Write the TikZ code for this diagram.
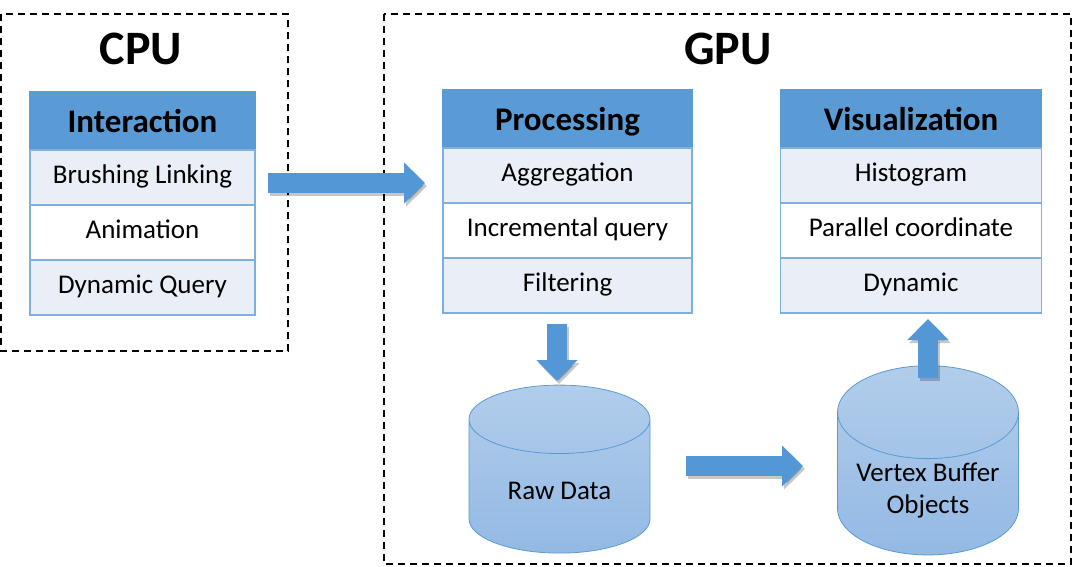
\documentclass[tikz,border=0pt]{standalone}
\usepackage{fontspec}
\setmainfont{Carlito}
\usepackage{tikz}
\usetikzlibrary{positioning}
\usetikzlibrary{shapes.geometric}
\usetikzlibrary{arrows.meta}

\definecolor{hdblue}{HTML}{5B9BD5}
\definecolor{rowblue}{HTML}{E9EEF7}
\definecolor{lineblue}{HTML}{7EB0DF}
\definecolor{arrowblue}{HTML}{5497D6}
\definecolor{cyltop}{HTML}{B2CDEB}
\definecolor{cylbot}{HTML}{93B9E4}

\tikzset{
	unitbox/.style={draw=black, line width=1.6pt, dash pattern=on 7pt off 5pt},
	title/.style={font=\fontsize{48}{56}\selectfont\bfseries, anchor=base},
	header/.style={rectangle, draw=hdblue, fill=hdblue, line width=1.5pt, outer sep=0pt, minimum height=58pt, text height=23pt, text depth=1pt, font=\fontsize{33}{40}\selectfont\bfseries},
	cell/.style={rectangle, draw=lineblue, line width=1.5pt, outer sep=0pt, minimum height=55pt, text height=18pt, text depth=6pt, font=\fontsize{27}{32}\selectfont},
	lightcell/.style={cell, fill=rowblue},
	whitecell/.style={cell, fill=white},
	store/.style={cylinder, shape border rotate=90, aspect=0.62, draw=hdblue, line width=0.8pt, top color=cyltop, bottom color=cylbot, minimum width=181pt, minimum height=168pt, align=center, font=\fontsize{27}{32}\selectfont},
	fat/.style={line width=20pt, arrowblue, -{Triangle[length=21pt, width=40pt]}},
	fatshadow/.style={line width=20pt, black, opacity=0.22, -{Triangle[length=21pt, width=40pt]}, transform canvas={shift={(2,3)}}}
}

\begin{document}
\begin{tikzpicture}[x=1pt, y=-1pt]
				\useasboundingbox (0,0) rectangle (1074,566);

				%Frames
				\draw[unitbox] (1,14) rectangle (288,351);
				\draw[unitbox] (384,14) rectangle (1071,564);
				\node[title] (cpu) at (141,64) {CPU};
				\node[title] (gpu) at (728,64) {GPU};

				%Interaction
				\node[header, minimum width=225pt] (inter) at (142.5,121) {Interaction};
				\node[lightcell, minimum width=225pt, below=0pt of inter] (brush) {Brushing Linking};
				\node[whitecell, minimum width=225pt, below=0pt of brush] (anim) {Animation};
				\node[lightcell, minimum width=225pt, below=0pt of anim] (dquery) {Dynamic Query};

				%Processing
				\node[header, minimum width=249pt] (proc) at (567.5,119) {Processing};
				\node[lightcell, minimum width=249pt, below=0pt of proc] (aggr) {Aggregation};
				\node[whitecell, minimum width=249pt, below=0pt of aggr] (incr) {Incremental query};
				\node[lightcell, minimum width=249pt, below=0pt of incr] (filt) {Filtering};

				%Visualization
				\node[header, minimum width=261pt] (vis) at (911,119) {Visualization};
				\node[lightcell, minimum width=261pt, below=0pt of vis] (hist) {Histogram};
				\node[whitecell, minimum width=261pt, below=0pt of hist] (pcoord) {Parallel coordinate};
				\node[lightcell, minimum width=261pt, below=0pt of pcoord] (dyn) {Dynamic};

				%Stores
				\node[store] (raw) at (559.5,491) {Raw Data};
				\node[store] (vbo) at (928,490) {Vertex Buffer\\Objects};

				%Arrow ends
				\coordinate      (cpuout) 	at 	(268,183);
				\coordinate      (gpuin) 	at 	(425,183);
				\coordinate      (procout) 	at 	(557,324);
				\coordinate      (rawin) 	at 	(557,381);
				\coordinate      (rawout) 	at 	(686,466);
				\coordinate      (vboin) 	at 	(803,466);
				\coordinate      (vboout) 	at 	(928,378);
				\coordinate      (visin) 	at 	(928,319);

				%Arrows
				\draw[fatshadow] (cpuout) -- (gpuin);
				\draw[fat] (cpuout) -- (gpuin);
				\draw[fatshadow] (procout) -- (rawin);
				\draw[fat] (procout) -- (rawin);
				\draw[fatshadow] (rawout) -- (vboin);
				\draw[fat] (rawout) -- (vboin);
				\draw[fatshadow] (vboout) -- (visin);
				\draw[fat] (vboout) -- (visin);

			\end{tikzpicture}
\end{document}
